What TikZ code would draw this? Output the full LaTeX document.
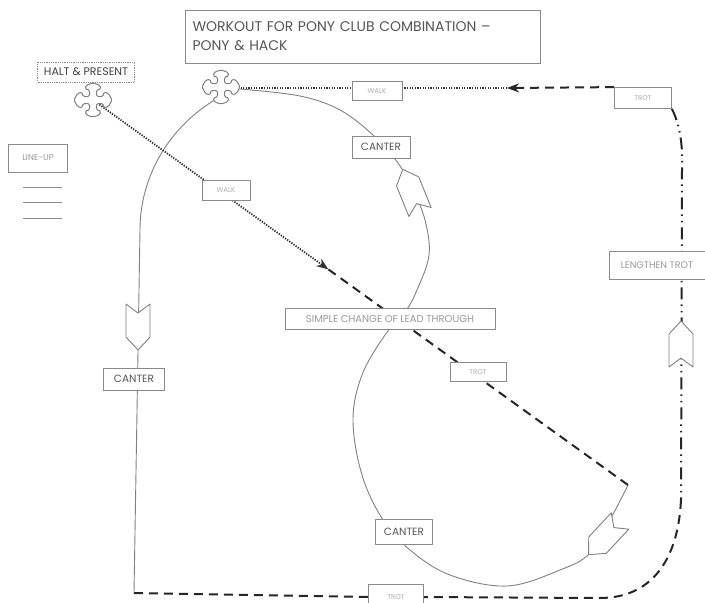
\documentclass[tikz,border=0pt]{standalone}
\usepackage{fontspec}
\setmainfont{Poppins}
\usetikzlibrary{arrows.meta,backgrounds,calc}
\definecolor{boxgray}{HTML}{8A8A8A}
\definecolor{textgray}{HTML}{555555}
\definecolor{faintgray}{HTML}{9A9A9A}
\tikzset{
	label box/.style={draw=boxgray, fill=white, text=textgray, font=\fontsize{10.5}{12}\selectfont, inner sep=0pt, line width=0.8pt},
	pace box/.style={label box, text=faintgray!80, font=\fontsize{7}{8}\selectfont},
	canter line/.style={draw=gray, line width=0.9pt},
	walk line/.style={draw=black!80, line width=1.8pt, dash pattern=on 1.3pt off 1.3pt},
	trot line/.style={draw=black!85, line width=2pt, dash pattern=on 9pt off 6pt},
	lengthen line/.style={draw=black!85, line width=2pt, dash pattern=on 12pt off 5pt on 1.5pt off 5pt on 1.5pt off 5pt},
	tip/.style={-{Stealth[length=12pt, width=9pt]}},
	chevron/.pic={
		\draw[draw=gray, fill=white, line width=0.9pt, line join=round]
		(-12,0) -- (0,9) -- (12,0) -- (12,33) -- (0,46) -- (-12,33) -- cycle;
	},
	marker/.pic={
		\draw[draw=gray, fill=white, line width=1pt, rounded corners=1.5pt]
		(3.5,-3.5) -- (10,-3.5) -- (11,-8) -- (15.5,-6.5) -- (19,0) -- (15.5,6.5) -- (11,8) -- (10,3.5)
		-- (3.5,3.5) -- (3.5,10) -- (8,11) -- (6.5,15) -- (0,17) -- (-6.5,15) -- (-8,11) -- (-3.5,10)
		-- (-3.5,3.5) -- (-10,3.5) -- (-11,8) -- (-15.5,6.5) -- (-19,0) -- (-15.5,-6.5) -- (-11,-8) -- (-10,-3.5)
		-- (-3.5,-3.5) -- (-3.5,-10) -- (-8,-11) -- (-6.5,-15) -- (0,-17) -- (6.5,-15) -- (8,-11) -- (3.5,-10) -- cycle;
	}
}
\begin{document}
\begin{tikzpicture}[x=1pt, y=-1pt]
	\useasboundingbox (0,0) rectangle (705,603);
	%title
	\node[draw=boxgray, line width=0.8pt, minimum width=355, minimum height=53, text width=340, align=left, inner sep=0pt, text=textgray, font=\fontsize{14}{19}\selectfont] (title) at (362.5,36.5) {WORKOUT FOR PONY CLUB COMBINATION –\\PONY \& HACK};
	%markers
	\coordinate (halt) at (93,100);
	\coordinate (start) at (221,87);
	\coordinate (lobe end) at (628,485);
	\coordinate (corner) at (134,593);
	\coordinate (walk tip) at (507,88);
	\coordinate (diag tip) at ($(halt)!0.44!(lobe end)$);
	\pic at (halt) {marker};
	\pic at (start) {marker};
	%labels
	\node[label box, densely dotted, text=black!75, font=\fontsize{11}{12}\selectfont, minimum width=97, minimum height=20] (present) at (86,72) {HALT \& PRESENT};
	\node[label box, text=faintgray, font=\fontsize{8.5}{9}\selectfont, minimum width=59, minimum height=28] (lineup) at (38,158) {LINE-UP};
	\foreach \y in {187,202,218}
		\draw[boxgray, line width=0.9pt] (23,\y) -- (62,\y);
	\node[pace box, minimum width=48, minimum height=20] (walk diag) at (226,190) {WALK};
	\node[pace box, minimum width=50, minimum height=19] (walk top) at (377,91) {WALK};
	\node[pace box, minimum width=57, minimum height=21] (trot top) at (643,98) {TROT};
	\node[label box, minimum width=58, minimum height=22] (canter up) at (381,147) {CANTER};
	\node[label box, minimum width=61, minimum height=22] (canter left) at (134,379) {CANTER};
	\node[label box, text=faintgray, font=\fontsize{10}{11}\selectfont, minimum width=210, minimum height=21] (simple) at (390,319) {SIMPLE CHANGE OF LEAD THROUGH};
	\node[pace box, minimum width=56, minimum height=19] (trot mid) at (478,372) {TROT};
	\node[label box, minimum width=57, minimum height=25] (canter low) at (404,532) {CANTER};
	\node[pace box, minimum width=55, minimum height=26] (trot bottom) at (396,597) {TROT};
	\node[label box, text=faintgray, font=\fontsize{9.5}{11}\selectfont, minimum width=96, minimum height=28] (lengthen) at (657,265) {LENGTHEN TROT};
	%arrows of the track
	\pic[rotate=0] at (138,304) {chevron};
	\pic[rotate=202] at (420,212) {chevron};
	\pic[rotate=180] at (681,367) {chevron};
	\pic[rotate=-43] at (620,521) {chevron};
	%track
	\begin{scope}[on background layer]
		\draw[canter line] (218,98) .. controls (169.5,126) and (140,176) .. (140,230) -- (corner);
		\draw[canter line] plot[smooth, tension=0.6] coordinates {(240,89) (300,96) (340,110) (373,135) (398,163) (413,190) (425,220) (429,255) (417,290) (405,312) (385,335) (362,375) (353,420) (362,475) (383,520) (410,550) (450,575) (507,586) (560,570) (590,553) (612,516) (lobe end)};
		\draw[walk line, tip] (halt) -- (diag tip);
		\draw[trot line] (diag tip) -- (lobe end);
		\draw[trot line, tip] (trot top.north west) -- (walk tip);
		\draw[walk line] (walk tip) -- (start |- walk tip);
		\draw[lengthen line] (trot top.south east) .. controls (680,125) and (683,145) .. (682,170) -- (681,500);
		\draw[trot line] (681,500) .. controls (678,562) and (650,598) .. (600,598) -- (trot bottom.east);
		\draw[trot line] (corner) -- (trot bottom.west);
	\end{scope}
\end{tikzpicture}
\end{document}
